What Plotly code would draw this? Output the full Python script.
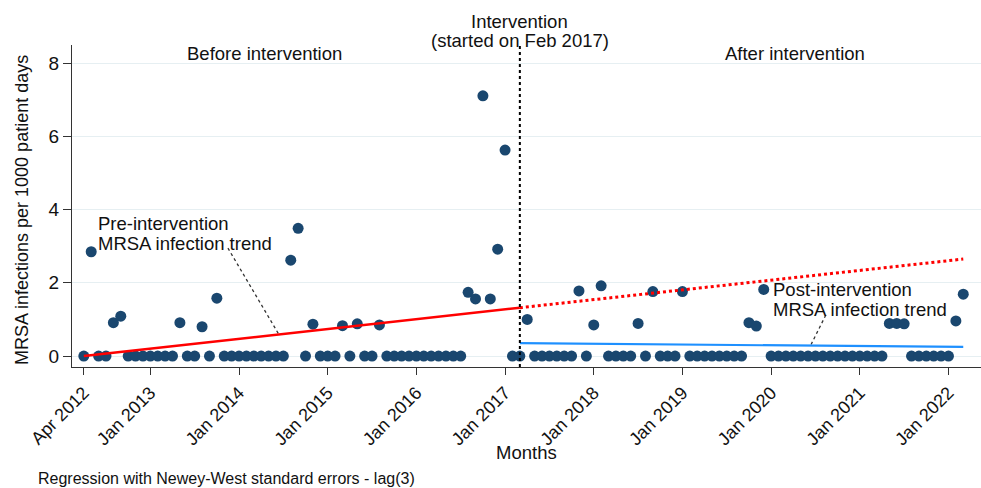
import plotly.graph_objects as go

# ---- data ----
month_index = list(range(120))  # Apr 2012 .. Mar 2022
mrsa_rate = [
    0, 2.85, 0, 0, 0.91, 1.09, 0, 0, 0, 0, 0, 0, 0, 0.91, 0, 0, 0.80, 0, 1.58, 0,
    0, 0, 0, 0, 0, 0, 0, 0, 2.62, 3.49, 0, 0.87, 0, 0, 0, 0.83, 0, 0.88, 0, 0,
    0.85, 0, 0, 0, 0, 0, 0, 0, 0, 0, 0, 0, 1.74, 1.56, 7.11, 1.56, 2.92, 5.63, 0, 0,
    1.0, 0, 0, 0, 0, 0, 0, 1.78, 0, 0.85, 1.92, 0, 0, 0, 0, 0.89, 0, 1.76, 0, 0,
    0, 1.76, 0, 0, 0, 0, 0, 0, 0, 0, 0.91, 0.82, 1.82, 0, 0, 0, 0, 0, 0, 0,
    0, 0, 0, 0, 0, 0, 0, 0, 0, 0.89, 0.89, 0.88, 0, 0, 0, 0, 0, 0, 0.96, 1.69,
]
tick_positions = [0, 9, 21, 33, 45, 57, 69, 81, 93, 105, 117]
tick_labels = ["Apr 2012", "Jan 2013", "Jan 2014", "Jan 2015", "Jan 2016", "Jan 2017",
               "Jan 2018", "Jan 2019", "Jan 2020", "Jan 2021", "Jan 2022"]
intervention_month = 59
pre_trend_x = [0, 59]
pre_trend_y = [0.0, 1.32]
counterfactual_x = [59, 119]
counterfactual_y = [1.32, 2.65]
post_trend_x = [59, 119]
post_trend_y = [0.35, 0.25]
pre_label_leader_x = [19.5, 26.3]
pre_label_leader_y = [2.95, 0.62]
post_label_leader_x = [100.4, 98.3]
post_label_leader_y = [1.12, 0.27]

FONT = "Liberation Sans, Arial, sans-serif"
NAVY = "#1a476f"
TXT = "#111111"

# plot area in pixels
L, R, T, B = 72, 981, 45, 367

fig = go.Figure()

fig.add_trace(go.Scatter(x=pre_label_leader_x, y=pre_label_leader_y, mode="lines",
                         line=dict(color="#333333", width=1.3, dash="dot"), hoverinfo="skip"))
fig.add_trace(go.Scatter(x=post_label_leader_x, y=post_label_leader_y, mode="lines",
                         line=dict(color="#333333", width=1.3, dash="dot"), hoverinfo="skip"))
fig.add_trace(go.Scatter(x=month_index, y=mrsa_rate, mode="markers",
                         marker=dict(color=NAVY, size=11, line=dict(width=0))))
fig.add_trace(go.Scatter(x=pre_trend_x, y=pre_trend_y, mode="lines",
                         line=dict(color="#ff0000", width=2.5)))
fig.add_trace(go.Scatter(x=counterfactual_x, y=counterfactual_y, mode="lines",
                         line=dict(color="#ff0000", width=3, dash="dot")))
fig.add_trace(go.Scatter(x=post_trend_x, y=post_trend_y, mode="lines",
                         line=dict(color="#1e90ff", width=2.2)))

fig.add_shape(type="line", xref="x", yref="paper", x0=intervention_month, x1=intervention_month,
              y0=0, y1=1, line=dict(color="black", width=2, dash="dot"))


def py(pix):
    return (B - pix) / (B - T)


def px(pix):
    return (pix - L) / (R - L)


def label(x, y, text, xref="paper", yref="paper", anchor="center", size=18.5, angle=0):
    fig.add_annotation(x=x, y=y, xref=xref, yref=yref, text=text, showarrow=False,
                       font=dict(family=FONT, size=size, color=TXT), textangle=angle,
                       xanchor=anchor, yanchor="middle")


label(intervention_month, py(21.5), "Intervention", xref="x")
label(intervention_month, py(41), "(started on Feb 2017)", xref="x")
label(24.5, py(53), "Before intervention", xref="x")
label(96.2, py(53), "After intervention", xref="x")
label(1.7, py(223), "Pre-intervention", xref="x", anchor="left")
label(1.7, py(243.5), "MRSA infection trend", xref="x", anchor="left")
label(93.0, py(289.5), "Post-intervention", xref="x", anchor="left")
label(93.0, py(309.5), "MRSA infection trend", xref="x", anchor="left")
label(px(36), py(478), "Regression with Newey-West standard errors - lag(3)", anchor="left", size=16)
label(px(526), py(452), "Months", size=18.5)
label(px(22), py(210), "MRSA infections per 1000 patient days", size=18, angle=-90)

fig.update_layout(
    width=981, height=488,
    margin=dict(l=L, r=981 - R, t=T, b=488 - B, autoexpand=False),
    paper_bgcolor="white", plot_bgcolor="white",
    showlegend=False,
    font=dict(family=FONT, size=16, color=TXT),
    xaxis=dict(range=[-1.6, 121.4], tickmode="array", tickvals=tick_positions, ticktext=tick_labels,
               tickangle=-45, ticks="outside", ticklen=7, tickcolor="#333333",
               showline=True, linecolor="#333333", linewidth=1.3, showgrid=False, zeroline=False,
               tickfont=dict(size=18), automargin=False),
    yaxis=dict(range=[-0.3, 8.5], tickvals=[0, 2, 4, 6, 8], ticks="outside", ticklen=8,
               tickcolor="#333333", showline=True, linecolor="#333333", linewidth=1.3,
               showgrid=True, gridcolor="#e6eff2", gridwidth=1.2, zeroline=False,
               tickfont=dict(size=19), automargin=False),
)

fig.write_html("out.html", config={"displayModeBar": False},
               post_script="document.body.style.margin='0px';document.body.style.overflow='hidden';")
